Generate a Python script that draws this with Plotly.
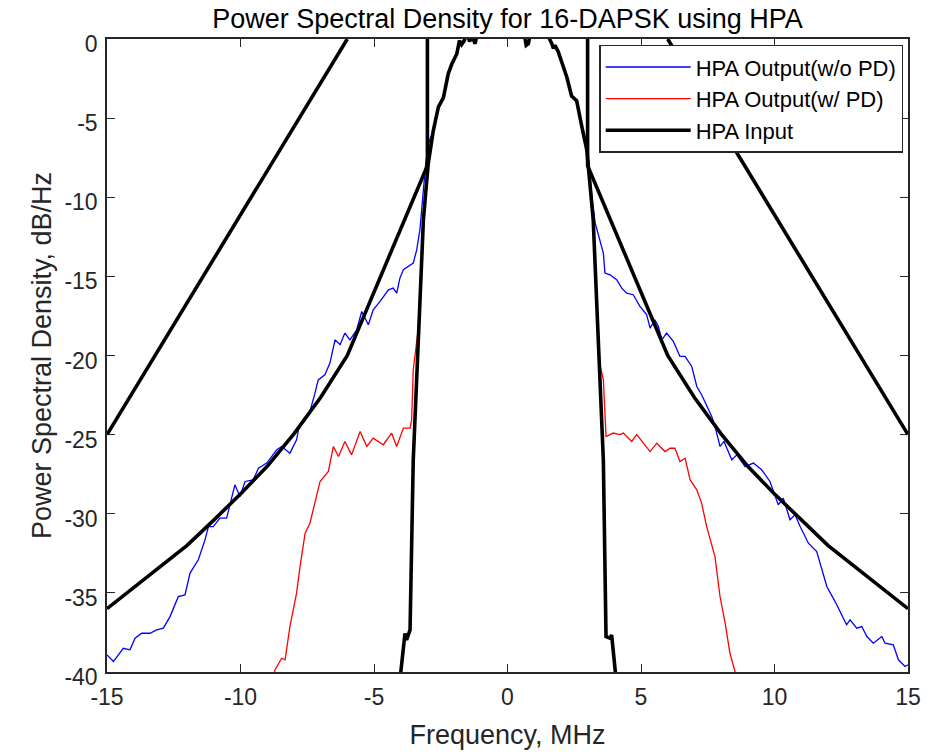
import plotly.graph_objects as go

# ---------------- data ----------------
# shared in-band core (MHz, dB/Hz) - identical for all three spectra
core_f = [-2.78, -2.59, -2.40, -2.22, -2.09, -1.90, -1.80, -1.72, -1.62, -1.52, -1.42, -1.32,
          -1.22, -1.10, -0.80, -0.40, 0.00, 0.40, 0.62, 0.70, 0.78, 0.88, 1.10, 1.35, 1.50,
          1.59, 1.66, 1.72, 1.78, 1.90, 2.03, 2.15, 2.22, 2.40, 2.59, 2.78]
core_p = [-5.8, -4.3, -3.7, -2.2, -1.6, -0.95, -0.1, -0.35, -0.1, 0.4, -0.15, 0.2,
          -0.3, 0.5, 1.0, 1.3, 1.4, 1.1, 0.4, -0.4, -0.3, 0.5, 1.0, 0.8, 0.3,
          0.0, -0.3, -0.6, -0.4, -0.8, -1.4, -2.1, -2.4, -3.6, -3.9, -5.5]

# HPA input skirts
inp_left_f = [-4.06, -3.99, -3.84, -3.78, -3.65, -3.53, -3.15, -2.97]
inp_left_p = [-41.0, -39.9, -37.56, -37.97, -37.34, -26.6, -11.42, -7.9]
inp_right_f = [2.97, 3.21, 3.59, 3.69, 3.84, 3.90, 4.06, 4.10]
inp_right_p = [-7.0, -11.42, -26.6, -37.76, -37.86, -37.66, -39.87, -41.0]

# HPA output without pre-distortion (blue)
nopd_left_f = [-15.0, -14.76, -14.39, -14.14, -13.95, -13.7, -13.39, -13.14, -12.89, -12.64,
               -12.33, -12.08, -11.89, -11.58, -11.33, -11.2, -11.02, -10.77, -10.52, -10.33,
               -10.21, -10.02, -9.83, -9.52, -9.33, -9.02, -8.64, -8.46, -8.15, -7.9,
               -7.83, -7.65, -7.4, -7.21, -7.09, -6.84, -6.65, -6.46, -6.27, -6.09,
               -5.9, -5.65, -5.46, -5.21, -5.03, -4.78, -4.46, -4.28, -4.15, -4.03,
               -3.9, -3.53, -3.4, -3.28, -3.18, -3.06, -2.92]
nopd_left_p = [-38.92, -39.34, -38.5, -38.6, -37.86, -37.55, -37.55, -37.34, -37.23, -36.5,
               -35.24, -35.13, -33.75, -32.91, -31.65, -30.81, -30.81, -30.28, -30.28, -28.91,
               -28.17, -28.91, -27.96, -27.86, -27.12, -26.8, -25.96, -25.75, -26.17, -25.33,
               -24.7, -24.17, -23.54, -22.38, -21.54, -21.22, -20.48, -19.01, -19.32, -18.58,
               -19.01, -18.38, -17.22, -18.06, -17.11, -16.59, -15.85, -15.74, -16.06, -15.11,
               -14.58, -14.16, -13.32, -12.05, -10.0, -7.8, -6.4]
nopd_right_f = [2.95, 3.05, 3.15, 3.28, 3.46, 3.59, 3.65, 3.84, 4.09, 4.28, 4.46, 4.71, 4.96,
                5.21, 5.34, 5.52, 5.65, 5.78, 5.96, 6.21, 6.46, 6.65, 6.9, 7.09, 7.27,
                7.46, 7.65, 7.77, 7.96, 8.11, 8.4, 8.59, 8.9, 9.21, 9.52, 9.83, 10.14,
                10.33, 10.58, 10.77, 10.96, 11.27, 11.58, 11.96, 12.27, 12.7, 12.83, 13.08,
                13.27, 13.46, 13.7, 14.02, 14.14, 14.45, 14.64, 14.89, 15.0]
nopd_right_p = [-6.6, -7.8, -9.8, -11.6, -12.69, -13.53, -14.79, -14.9, -15.21, -15.74, -16.06,
                -16.16, -16.9, -17.42, -18.27, -17.74, -18.17, -19.01, -18.58, -19.11, -20.06,
                -20.06, -20.69, -21.96, -22.48, -23.22, -23.86, -24.48, -25.74, -25.43,
                -26.59, -26.28, -27.02, -26.8, -27.22, -27.96, -29.44, -29.01, -30.38, -30.07,
                -30.81, -31.86, -32.39, -34.6, -35.55, -37.02, -36.71, -37.23, -37.13, -37.76,
                -38.18, -37.76, -38.18, -38.28, -39.23, -39.65, -39.55]

# HPA output with pre-distortion (red)
pd_left_f = [-8.75, -8.71, -8.46, -8.33, -8.15, -7.9, -7.77, -7.58, -7.4, -7.21, -7.02, -6.71,
             -6.52, -6.33, -6.09, -5.84, -5.52, -5.27, -5.03, -4.65, -4.34, -4.15, -3.9,
             -3.65, -3.59, -3.53, -3.32, -3.15, -2.97]
pd_left_p = [-40.5, -39.87, -39.13, -39.23, -37.13, -35.02, -33.34, -31.23, -30.6, -29.33,
             -27.96, -27.33, -25.75, -26.38, -25.43, -26.28, -24.8, -25.75, -25.22, -25.64,
             -24.91, -25.75, -24.59, -24.59, -24.07, -20.9, -18.0, -11.42, -7.9]
pd_right_f = [2.97, 3.21, 3.45, 3.59, 3.69, 3.96, 4.21, 4.34, 4.65, 4.84, 5.15, 5.34, 5.59,
              5.9, 6.09, 6.27, 6.46, 6.65, 6.84, 7.09, 7.27, 7.46, 7.77, 7.96, 8.15, 8.33,
              8.52, 8.6]
pd_right_p = [-7.0, -11.42, -20.5, -21.53, -25.12, -24.9, -25.0, -24.9, -25.43, -25.0, -25.64,
              -26.07, -25.54, -26.07, -25.86, -25.86, -26.7, -26.49, -27.86, -28.49, -29.33,
              -30.81, -32.71, -35.23, -36.9, -38.8, -39.97, -40.5]

# spectral masks (black, not in legend)
mask_outer_left_f = [-15, -6]
mask_outer_left_p = [-25, 0]
mask_outer_right_f = [6, 15]
mask_outer_right_p = [0, -25]
mask_inner_left_f = [-15, -12, -11, -10, -9, -8, -7, -6, -3, -3]
mask_inner_left_p = [-36, -32, -30.4, -28.75, -27.0, -24.95, -22.65, -20, -8, 0.5]
mask_inner_right_f = [3, 3, 6, 7, 8, 9, 10, 11, 12, 15]
mask_inner_right_p = [0.5, -8, -20, -22.65, -24.95, -27.0, -28.75, -30.4, -32, -36]

x_ticks = [-15, -10, -5, 0, 5, 10, 15]
x_tick_labels = ["-15", "-10", "-5", "0", "5", "10", "15"]
y_ticks = [-40, -35, -30, -25, -20, -15, -10, -5, 0]
y_tick_labels = ["-40", "-35", "-30", "-25", "-20", "-15", "-10", "-5", "0"]

# ---------------- figure ----------------
FONT = "Liberation Sans, Arial, Helvetica, sans-serif"
AX = "#262626"
W, H = 951, 754

fig = go.Figure()

fig.add_trace(go.Scatter(
    x=nopd_left_f + core_f + nopd_right_f,
    y=nopd_left_p + core_p + nopd_right_p,
    mode="lines", name="HPA Output(w/o PD)",
    line=dict(color="#0000FF", width=1.3)))

fig.add_trace(go.Scatter(
    x=pd_left_f + core_f + pd_right_f,
    y=pd_left_p + core_p + pd_right_p,
    mode="lines", name="HPA Output(w/ PD)",
    line=dict(color="#FF0000", width=1.3)))

fig.add_trace(go.Scatter(
    x=inp_left_f + core_f + inp_right_f,
    y=inp_left_p + core_p + inp_right_p,
    mode="lines", name="HPA Input",
    line=dict(color="#000000", width=3.6)))

for fx, py in [(mask_outer_left_f, mask_outer_left_p), (mask_outer_right_f, mask_outer_right_p),
               (mask_inner_left_f, mask_inner_left_p), (mask_inner_right_f, mask_inner_right_p)]:
    fig.add_trace(go.Scatter(x=fx, y=py, mode="lines", showlegend=False,
                             line=dict(color="#000000", width=3.6), hoverinfo="skip"))

axis_common = dict(
    showline=True, linecolor=AX, linewidth=1.5, mirror="ticks",
    ticks="inside", ticklen=8, tickwidth=1.3, tickcolor=AX,
    showgrid=False, zeroline=False, automargin=False,
    tickfont=dict(family=FONT, size=23, color=AX),
)

fig.update_layout(
    width=W, height=H,
    margin=dict(l=107, r=43, t=39, b=82, autoexpand=False),
    paper_bgcolor="white", plot_bgcolor="white",
    title=dict(text="Power Spectral Density for 16-DAPSK using HPA",
               font=dict(family=FONT, size=27, color="#000000"),
               x=0.5, xref="paper", xanchor="center",
               y=1 - 19 / H, yref="container", yanchor="middle"),
    xaxis=dict(range=[-15, 15], tickvals=x_ticks, ticktext=x_tick_labels,
               ticklabelstandoff=4,
               title=dict(text="Frequency, MHz", font=dict(family=FONT, size=27, color=AX),
                          standoff=16),
               **axis_common),
    yaxis=dict(range=[-40, 0], tickvals=y_ticks, ticktext=y_tick_labels,
               ticklabelstandoff=3, ticklabelshift=5,
               title=dict(text="Power Spectral Density, dB/Hz",
                          font=dict(family=FONT, size=27, color=AX), standoff=5),
               **axis_common),
    legend=dict(x=0.994, xanchor="right", y=0.991, yanchor="top",
                bgcolor="white", bordercolor=AX, borderwidth=1.5,
                font=dict(family=FONT, size=22, color="#000000"),
                itemwidth=85, tracegroupgap=0),
    showlegend=True,
)

# remove the default 8 px page margin so the figure fills the 951x754 window exactly
fig.write_html("out.html",
               config={"displayModeBar": False},
               post_script="document.body.style.margin='0px';document.body.style.overflow='hidden';")
